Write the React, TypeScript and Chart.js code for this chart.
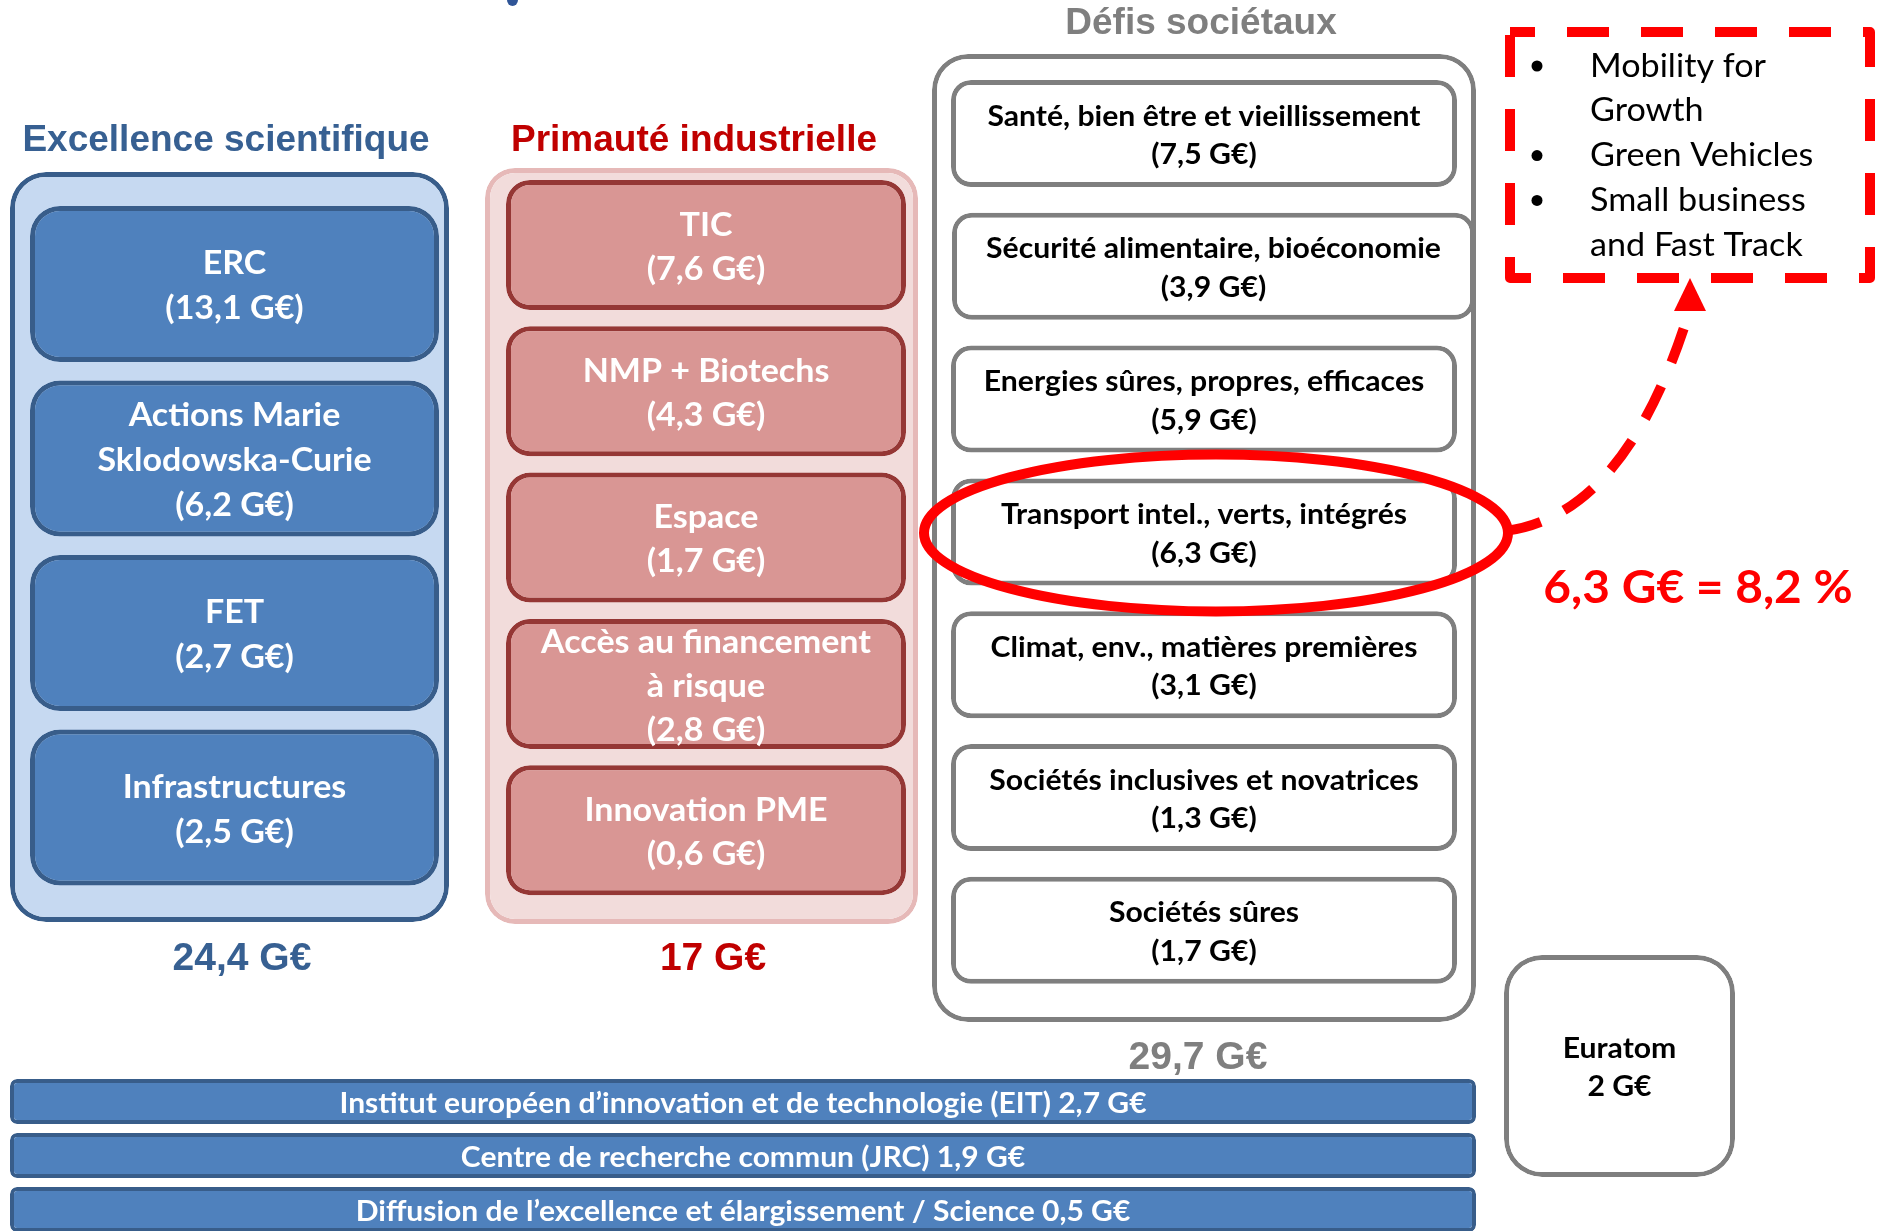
import React, { useEffect, useRef } from 'react';
import { Chart, registerables } from 'chart.js';

Chart.register(...registerables);

// ---------------- data ----------------
const pillarTitles = ['Excellence scientifique', 'Primauté industrielle', 'Défis sociétaux'];
const pillarTotals = [24.4, 17, 29.7];

const excellenceNames = ['ERC', 'Actions Marie\nSklodowska-Curie', 'FET', 'Infrastructures'];
const excellenceValues = [13.1, 6.2, 2.7, 2.5];

const industryNames = ['TIC', 'NMP + Biotechs', 'Espace', 'Accès au financement\nà risque', 'Innovation PME'];
const industryValues = [7.6, 4.3, 1.7, 2.8, 0.6];

const societalNames = [
  'Santé, bien être et vieillissement',
  'Sécurité alimentaire, bioéconomie',
  'Energies sûres, propres, efficaces',
  'Transport intel., verts, intégrés',
  'Climat, env., matières premières',
  'Sociétés inclusives et novatrices',
  'Sociétés sûres',
];
const societalValues = [7.5, 3.9, 5.9, 6.3, 3.1, 1.3, 1.7];

const crossNames = [
  'Institut européen d’innovation et de technologie (EIT)',
  'Centre de recherche commun (JRC)',
  'Diffusion de l’excellence et élargissement / Science',
];
const crossValues = [2.7, 1.9, 0.5];

const euratomName = 'Euratom';
const euratomValue = 2;

const highlightIndex = 3; // Transport
const highlightShare = 8.2;
const focusItems = ['Mobility for\nGrowth', 'Green Vehicles', 'Small business\nand Fast Track'];

// ---------------- layout ----------------
const W = 1881;
const H = 1231;
const EXC = { cx: 234.5, w: 409, top: 206, step: 174.5, h: 156 };
const EXC_FRAME = { x0: 10, x1: 449, y0: 172, y1: 922 };
const IND = { cx: 706, w: 400, top: 180, step: 146.3, h: 130 };
const IND_FRAME = { x0: 485, x1: 918, y0: 168, y1: 924 };
const SOC = { cx: 1204, w: 506, top: 80, step: 132.8, h: 107 };
const SOC_WIDE = { index: 1, cx: 1213.5, w: 523 }; // one box drawn wider in the original
const SOC_FRAME = { x0: 932, x1: 1476, y0: 54, y1: 1022 };
const CROSS = { x0: 10, x1: 1476, top: 1079, step: 54, h: 45 };
const EUR = { x0: 1504, x1: 1735, y0: 955, y1: 1177 };
const TITLE_POS = [
  { x: 226, y: 141 },
  { x: 694, y: 141 },
  { x: 1201, y: 24 },
];
const TOTAL_POS = [
  { x: 242, y: 959 },
  { x: 713, y: 959 },
  { x: 1198, y: 1058 },
];
const FOCUS = { x0: 1510, y0: 32, x1: 1870, y1: 278, bulletX: 1537, textX: 1590, firstY: 66, lh: 44.8 };
const ARROW = { ctrlX: 1626, ctrlY: 515, endX: 1689, endY: 312, tipX: 1690, tipY: 278, headHalf: 16 };
const SHARE_POS = { x: 1698, y: 588 };

const BLUE_FILL = '#4F81BD';
const BLUE_LINE = '#385D8A';
const GRAY_LINE = '#7F7F7F';
const TITLE_COLORS = ['#376092', '#C00000', '#7F7F7F'];
const CAL = 'Lato, "Open Sans", sans-serif';
const ARIAL = '"Liberation Sans", Arial, sans-serif';
const TEXT_DY = 2;

const fmt = (v: number) => (Number.isInteger(v) ? String(v) : v.toFixed(1).replace('.', ','));

function drawLines(ctx: CanvasRenderingContext2D, lines: string[], cx: number, cy: number, font: string, color: string, lh: number, sx = 1) {
  ctx.save();
  ctx.font = font;
  ctx.fillStyle = color;
  ctx.textAlign = 'center';
  ctx.textBaseline = 'middle';
  const n = lines.length;
  lines.forEach((t, i) => {
    const y = cy + (i - (n - 1) / 2) * lh;
    ctx.save();
    ctx.translate(cx, y);
    ctx.scale(sx, 1);
    ctx.fillText(t, 0, 0);
    ctx.restore();
  });
  ctx.restore();
}

function stackBars(n: number, L: { cx: number; top: number; step: number; h: number }) {
  return Array.from({ length: n }, (_, i) => ({ x: L.cx, y: [L.top + i * L.step, L.top + i * L.step + L.h] }));
}

const diagramPlugin = {
  id: 'diagram',
  beforeDraw(chart: any) {
    const ctx = chart.ctx;
    ctx.save();
    ctx.fillStyle = '#ffffff';
    ctx.fillRect(0, 0, chart.width, chart.height);
    ctx.restore();
  },
  afterDatasetsDraw(chart: any) {
    const ctx: CanvasRenderingContext2D = chart.ctx;
    const xs = chart.scales.x;
    const ys = chart.scales.y;
    const px = (v: number) => xs.getPixelForValue(v);
    const py = (v: number) => ys.getPixelForValue(v);

    // labels inside bars
    chart.data.datasets.forEach((ds: any, di: number) => {
      if (!ds.labels) return;
      const meta = chart.getDatasetMeta(di);
      meta.data.forEach((el: any, i: number) => {
        if (!ds.labels[i]) return;
        const p = el.getProps(['x', 'y', 'base'], true);
        drawLines(ctx, ds.labels[i], p.x, (p.y + p.base) / 2 + TEXT_DY, ds.labelFont, ds.labelColor, ds.lineHeight, ds.labelScale || 1);
      });
    });

    // pillar titles & totals
    pillarTitles.forEach((t, i) => {
      drawLines(ctx, [t], px(TITLE_POS[i].x), py(TITLE_POS[i].y), `bold 37px ${ARIAL}`, TITLE_COLORS[i], 40);
      drawLines(ctx, [`${fmt(pillarTotals[i])} G€`], px(TOTAL_POS[i].x), py(TOTAL_POS[i].y), `bold 39px ${ARIAL}`, TITLE_COLORS[i], 40);
    });

    // cut-off glyph at top
    ctx.save();
    ctx.fillStyle = '#2F5597';
    ctx.beginPath();
    ctx.ellipse(px(512.5), py(0), 5.5, 6, 0, 0, Math.PI * 2);
    ctx.fill();
    ctx.restore();

    // highlight ellipse around Transport
    const socIdx = chart.data.datasets.findIndex((d: any) => d.id === 'societal');
    const hel = chart.getDatasetMeta(socIdx).data[highlightIndex].getProps(['x', 'y', 'base', 'width'], true);
    const ecx = hel.x + 12;
    const ecy = (hel.y + hel.base) / 2 + 1;
    const erx = hel.width / 2 + 39;
    const ery = Math.abs(hel.base - hel.y) / 2 + 25;
    ctx.save();
    ctx.strokeStyle = '#FF0000';
    ctx.lineWidth = 10;
    ctx.beginPath();
    ctx.ellipse(ecx, ecy, erx, ery, 0, 0, Math.PI * 2);
    ctx.stroke();

    // dashed curved arrow
    ctx.lineWidth = 10;
    ctx.setLineDash([36, 26]);
    ctx.lineCap = 'butt';
    ctx.beginPath();
    ctx.moveTo(ecx + erx - 2, ecy - 2);
    ctx.quadraticCurveTo(px(ARROW.ctrlX), py(ARROW.ctrlY), px(ARROW.endX), py(ARROW.endY));
    ctx.stroke();
    ctx.setLineDash([]);
    ctx.fillStyle = '#FF0000';
    ctx.beginPath();
    ctx.moveTo(px(ARROW.tipX), py(ARROW.tipY));
    ctx.lineTo(px(ARROW.tipX) + ARROW.headHalf, py(ARROW.tipY) + 33);
    ctx.lineTo(px(ARROW.tipX) - ARROW.headHalf, py(ARROW.tipY) + 33);
    ctx.closePath();
    ctx.fill();

    // dashed focus box
    ctx.lineWidth = 10;
    ctx.setLineDash([42, 32]);
    ctx.lineDashOffset = 17;
    ctx.lineJoin = 'round';
    ctx.beginPath();
    ctx.rect(px(FOCUS.x0), py(FOCUS.y0), px(FOCUS.x1) - px(FOCUS.x0), py(FOCUS.y1) - py(FOCUS.y0));
    ctx.stroke();
    ctx.restore();

    // focus bullet list
    let line = 0;
    focusItems.forEach((item) => {
      const parts = item.split('\n');
      const y0 = FOCUS.firstY + line * FOCUS.lh;
      ctx.save();
      ctx.fillStyle = '#000';
      ctx.beginPath();
      ctx.arc(px(FOCUS.bulletX), py(y0), 5.5, 0, Math.PI * 2);
      ctx.fill();
      ctx.restore();
      parts.forEach((p) => {
        const y = FOCUS.firstY + line * FOCUS.lh;
        ctx.save();
        ctx.font = `33px ${CAL}`;
        ctx.fillStyle = '#000';
        ctx.textAlign = 'left';
        ctx.textBaseline = 'middle';
        ctx.translate(px(FOCUS.textX), py(y));
        ctx.scale(1.035, 1);
        ctx.fillText(p, 0, 0);
        ctx.restore();
        line++;
      });
    });

    // share text
    drawLines(ctx, [`${fmt(societalValues[highlightIndex])} G€ = ${fmt(highlightShare)} %`], px(SHARE_POS.x), py(SHARE_POS.y), `bold 46px ${CAL}`, '#FF0000', 50, 1.04);
  },
};

export default function App() {
  const ref = useRef<HTMLCanvasElement | null>(null);

  useEffect(() => {
    let chart: Chart | null = null;
    let cancelled = false;
    const fonts = [`bold 32px Lato`, `32px Lato`, `bold 36px "Liberation Sans"`];
    const create = () => {
      if (cancelled || !ref.current) return;
      const common = {
        type: 'bar',
        grouped: false,
        borderSkipped: false,
        inflateAmount: 0,
      };
      const frame = (F: any, bg: string, bc: string, r: number, order: number) => ({
        ...common,
        data: [{ x: (F.x0 + F.x1) / 2, y: [F.y0, F.y1] }],
        barThickness: F.x1 - F.x0,
        backgroundColor: bg,
        borderColor: bc,
        borderWidth: 5,
        borderRadius: r,
        order,
      });
      const socBars = stackBars(societalValues.length, SOC);
      const socLabels = societalNames.map((n, i) => [n, `(${fmt(societalValues[i])} G€)`]);
      const societalFont = `bold 29px ${CAL}`;
      const datasets: any[] = [
        frame(EXC_FRAME, '#C6D9F1', BLUE_LINE, 36, 3),
        frame(IND_FRAME, '#F2DCDB', '#E6B9B8', 30, 3),
        frame(SOC_FRAME, '#FFFFFF', GRAY_LINE, 36, 3),
        {
          ...common,
          id: 'excellence',
          data: stackBars(excellenceValues.length, EXC),
          barThickness: EXC.w,
          backgroundColor: BLUE_FILL,
          borderColor: BLUE_LINE,
          borderWidth: 5,
          borderRadius: 30,
          order: 1,
          labels: excellenceNames.map((n, i) => [...n.split('\n'), `(${fmt(excellenceValues[i])} G€)`]),
          labelFont: `bold 33px ${CAL}`,
          labelColor: '#FFFFFF',
          lineHeight: 45,
          labelScale: 1.03,
        },
        {
          ...common,
          id: 'industry',
          data: stackBars(industryValues.length, IND),
          barThickness: IND.w,
          backgroundColor: '#D99694',
          borderColor: '#953735',
          borderWidth: 5,
          borderRadius: 24,
          order: 1,
          labels: industryNames.map((n, i) => [...n.split('\n'), `(${fmt(industryValues[i])} G€)`]),
          labelFont: `bold 33px ${CAL}`,
          labelColor: '#FFFFFF',
          lineHeight: 44,
          labelScale: 1.03,
        },
        {
          ...common,
          id: 'societal',
          data: socBars,
          barThickness: SOC.w,
          backgroundColor: socBars.map((_, i) => (i === SOC_WIDE.index ? 'rgba(0,0,0,0)' : '#FFFFFF')),
          borderColor: socBars.map((_, i) => (i === SOC_WIDE.index ? 'rgba(0,0,0,0)' : GRAY_LINE)),
          borderWidth: 5,
          borderRadius: 20,
          order: 1,
          labels: socLabels.map((l, i) => (i === SOC_WIDE.index ? null : l)),
          labelFont: societalFont,
          labelColor: '#000000',
          lineHeight: 38.5,
          labelScale: 1.04,
        },
        {
          ...common,
          id: 'societalWide',
          data: [{ x: SOC_WIDE.cx, y: socBars[SOC_WIDE.index].y }],
          barThickness: SOC_WIDE.w,
          backgroundColor: '#FFFFFF',
          borderColor: GRAY_LINE,
          borderWidth: 5,
          borderRadius: 20,
          order: 1,
          labels: [socLabels[SOC_WIDE.index]],
          labelFont: societalFont,
          labelColor: '#000000',
          lineHeight: 38.5,
          labelScale: 1.04,
        },
        {
          ...common,
          id: 'cross',
          data: crossValues.map((_, i) => ({ x: (CROSS.x0 + CROSS.x1) / 2, y: [CROSS.top + i * CROSS.step, CROSS.top + i * CROSS.step + CROSS.h] })),
          barThickness: CROSS.x1 - CROSS.x0,
          backgroundColor: BLUE_FILL,
          borderColor: BLUE_LINE,
          borderWidth: 4,
          borderRadius: 7,
          order: 1,
          labels: crossNames.map((n, i) => [`${n} ${fmt(crossValues[i])} G€`]),
          labelFont: `bold 29px ${CAL}`,
          labelColor: '#FFFFFF',
          lineHeight: 38,
          labelScale: 1.035,
        },
        {
          ...common,
          id: 'euratom',
          data: [{ x: (EUR.x0 + EUR.x1) / 2, y: [EUR.y0, EUR.y1] }],
          barThickness: EUR.x1 - EUR.x0,
          backgroundColor: '#FFFFFF',
          borderColor: GRAY_LINE,
          borderWidth: 5,
          borderRadius: 38,
          order: 1,
          labels: [[euratomName, `${fmt(euratomValue)} G€`]],
          labelFont: `bold 29px ${CAL}`,
          labelColor: '#000000',
          lineHeight: 38,
          labelScale: 1.04,
        },
      ];
      chart = new Chart(ref.current, {
        type: 'bar',
        data: { datasets },
        options: {
          responsive: false,
          animation: false,
          events: [],
          layout: { padding: 0 },
          plugins: { legend: { display: false }, tooltip: { enabled: false } },
          scales: {
            x: { type: 'linear', min: 0, max: W, display: false, offset: false },
            y: { type: 'linear', min: 0, max: H, reverse: true, display: false, stacked: false },
          },
        } as any,
        plugins: [diagramPlugin as any],
      } as any);
    };
    const fs: any = (document as any).fonts;
    if (fs && fs.load) {
      Promise.all(fonts.map((f) => fs.load(f).catch(() => null))).then(create, create);
    } else {
      create();
    }
    return () => {
      cancelled = true;
      if (chart) chart.destroy();
    };
  }, []);

  return (
    <div style={{ position: 'absolute', left: 0, top: 0, width: W, height: H, background: '#fff' }}>
      <canvas ref={ref} width={W} height={H} style={{ display: 'block', width: W, height: H }} />
    </div>
  );
}
